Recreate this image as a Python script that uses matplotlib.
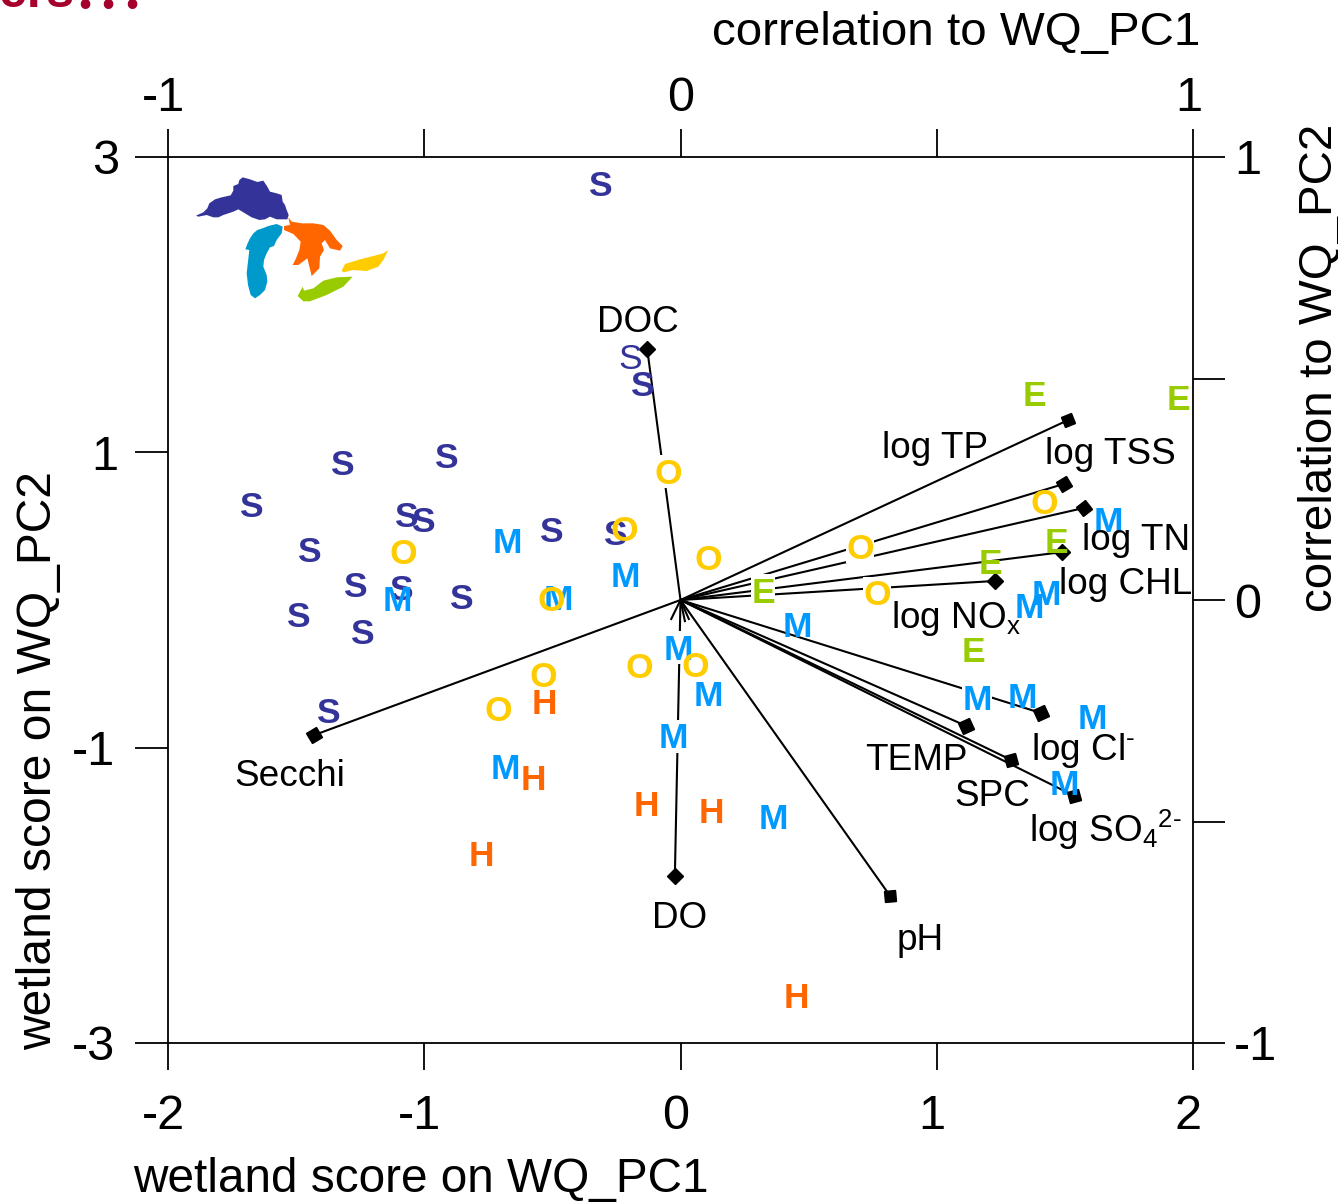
import matplotlib
matplotlib.use("Agg")
import matplotlib.pyplot as plt
from matplotlib.markers import MarkerStyle
from matplotlib.patches import Polygon
from matplotlib.transforms import Affine2D, ScaledTranslation

plt.rcParams['font.family'] = ['Liberation Sans', 'DejaVu Sans']
plt.rcParams['mathtext.fontset'] = 'custom'
plt.rcParams['mathtext.rm'] = 'Liberation Sans'
plt.rcParams['mathtext.default'] = 'regular'

W, H = 1338, 1202
# ---- data: wetland scores (lower/left axes)
s_x = [-0.314, -0.150, -1.321, -0.915, -1.676, -1.071, -1.005, -0.505, -0.256, -1.450, -1.270, -1.091, -0.857, -1.493, -1.243, -1.376]
s_y = [2.817, 1.463, 0.928, 0.975, 0.643, 0.576, 0.542, 0.474, 0.454, 0.339, 0.102, 0.081, 0.020, -0.102, -0.217, -0.752]
thin_s_x = [-0.197]
thin_s_y = [1.646]
m_x = [-0.677, -0.217, -1.106, -0.478, -0.010, 0.107, -0.029, -0.685, 0.361, 0.455, 1.668, 1.426, 1.360, 1.157, 1.333, 1.606, 1.500]
m_y = [0.400, 0.169, 0.007, 0.014, -0.325, -0.637, -0.921, -1.131, -1.470, -0.169, 0.542, 0.047, -0.041, -0.664, -0.650, -0.792, -1.239]
o_x = [-0.049, -0.220, 0.107, -1.083, -0.505, 0.700, 0.767, 1.418, -0.537, -0.712, -0.162, 0.057]
o_y = [0.867, 0.481, 0.284, 0.325, 0.007, 0.359, 0.047, 0.664, -0.508, -0.738, -0.447, -0.440]
e_x = [1.383, 1.945, 0.322, 1.208, 1.469, 1.145]
e_y = [1.395, 1.368, 0.061, 0.257, 0.400, -0.339]
h_x = [-0.533, -0.576, -0.135, 0.119, -0.779, 0.451]
h_y = [-0.691, -1.205, -1.381, -1.429, -1.720, -2.682]
# letters that sit on a white box interrupting the vectors: (letter, x, y)
masked = [('O', -0.049, 0.867), ('M', -0.010, -0.325), ('M', -0.029, -0.921), ('E', 0.322, 0.061),
          ('O', 0.700, 0.359), ('O', 0.767, 0.047), ('M', 1.157, -0.664)]
# ---- data: correlations (upper/right axes)
vec_names = ['DOC', 'log TP', 'log TSS', 'log TN', 'log CHL', 'log NOx', 'log Cl', 'TEMP', 'SPC', 'log SO4', 'pH', 'DO', 'Secchi']
vec_x = [-0.065, 0.756, 0.748, 0.788, 0.744, 0.614, 0.703, 0.557, 0.645, 0.768, 0.409, -0.011, -0.715]
vec_y = [0.567, 0.406, 0.262, 0.208, 0.108, 0.043, -0.255, -0.284, -0.361, -0.442, -0.668, -0.623, -0.305]
vec_angle = [45, 20, 30, 35, 45, 45, 25, 25, 15, 15, 5, 45, 30]
stub_x = [-0.019, 0.009, 0.017]
stub_y = [-0.045, -0.050, -0.045]
vec_text = [('DOC', 638, 323), ('log TP', 935, 448), ('log TSS', 1110, 455), ('log TN', 1136, 541),
            ('log CHL', 1126, 584), (r'log NO$_{x}$', 956, 618), (r'log Cl$^{\text{-}}$', 1083, 750), ('TEMP', 916, 760),
            ('SPC', 992, 796), (r'log SO$_{4}$$^{\text{2-}}$', 1105, 830), ('pH', 920, 941), ('DO', 680, 919), ('Secchi', 290, 776)]

S_COL, M_COL, O_COL, E_COL, H_COL = '#333399', '#0099FF', '#FFCC00', '#99CC00', '#FF6600'

fig = plt.figure(figsize=(W / 100, H / 100), dpi=100, facecolor='white')
rect = [168 / W, 1 - 1043 / H, (1193 - 168) / W, (1043 - 157) / H]
ax = fig.add_axes(rect)
ax.set_xlim(-2, 2)
ax.set_ylim(-3, 3)
ax2 = fig.add_axes(rect, frameon=False)
ax2.set_xlim(-1, 1)
ax2.set_ylim(-1, 1)
ax2.xaxis.tick_top()
ax2.yaxis.tick_right()

px = 0.72
ax.set_xticks([-2, -1, 0, 1, 2], ['-2', '-1', '0', '1', '2'])
ax.set_yticks([-3, -1, 1, 3], ['-3', '-1', '1', '3'])
ax2.set_xticks([-1, -0.5, 0, 0.5, 1], ['-1', '', '0', '', '1'])
ax2.set_yticks([-1, -0.5, 0, 0.5, 1], ['-1', '', '0', '', '1'])
ax.tick_params(axis='x', length=27 * px, width=1.3, pad=24 * px, labelsize=35)
ax.tick_params(axis='y', length=33 * px, width=1.3, pad=16 * px, labelsize=35)
ax2.tick_params(axis='x', length=28 * px, width=1.3, pad=8 * px, labelsize=35)
ax2.tick_params(axis='y', length=32 * px, width=1.3, pad=9 * px, labelsize=35)
for sp in ax.spines.values():
    sp.set_linewidth(1.3)


def shift(label, dx):
    label.set_transform(label.get_transform() + ScaledTranslation(dx * px / 72, 0, fig.dpi_scale_trans))


for lab in ax.get_xticklabels():
    shift(lab, -5)
for lab, dx in zip(ax.get_yticklabels(), [-4, -4, -1, 0]):
    shift(lab, dx)
for lab, dx in zip(ax2.get_xticklabels(), [-5, 0, 0, 0, -4]):
    shift(lab, dx)

# vectors
for x, y in zip(vec_x, vec_y):
    ax2.plot([0, x], [0, y], color='black', lw=1.5, zorder=1, solid_capstyle='butt')
for x, y in zip(stub_x, stub_y):
    ax2.plot([0, x], [0, y], color='black', lw=1.5, zorder=1, solid_capstyle='butt')
for x, y, a in zip(vec_x, vec_y, vec_angle):
    ax2.plot([x], [y], ls='none', color='black', ms=8.2, zorder=2,
             marker=MarkerStyle('s', transform=Affine2D().rotate_deg(a)))

ax.set_zorder(3)
ax.patch.set_visible(False)
ax2.set_zorder(2)
fs = 25.5
for t, x, y in masked:
    ax.text(x, y, t, fontsize=fs, fontweight='bold', color='white', ha='center', va='center', zorder=2,
            bbox=dict(facecolor='white', edgecolor='none', pad=0))
lift = ScaledTranslation(0, 1 * px / 72, fig.dpi_scale_trans)
for t, xs, ys, c in [('S', s_x, s_y, S_COL), ('M', m_x, m_y, M_COL), ('O', o_x, o_y, O_COL),
                     ('E', e_x, e_y, E_COL), ('H', h_x, h_y, H_COL)]:
    for x, y in zip(xs, ys):
        ax.text(x, y, t, fontsize=fs, fontweight='bold', color=c, ha='center', va='center_baseline', zorder=3,
                transform=ax.transData + lift)
for x, y in zip(thin_s_x, thin_s_y):
    ax.text(x, y, 'S', fontsize=fs, color=S_COL, ha='center', va='center_baseline', zorder=3,
            transform=ax.transData + lift)


def P(x, y):
    return x / W, 1 - y / H


for t, x, y in vec_text:
    fig.text(*P(x, y), t, fontsize=26.6, ha='center', va='center', color='black', zorder=5)

# axis titles
fig.text(*P(712, 45), 'correlation to WQ_PC1', fontsize=34.2, ha='left', va='baseline')
fig.text(*P(133, 1192), 'wetland score on WQ_PC1', fontsize=34.4, ha='left', va='baseline')
fig.text(*P(51, 1050), 'wetland score on WQ_PC2', fontsize=34.6, rotation=90, ha='left', va='baseline',
         rotation_mode='anchor')
fig.text(*P(1332, 612), 'correlation to WQ_PC2', fontsize=34.2, rotation=90, ha='left', va='baseline',
         rotation_mode='anchor')

# Great Lakes map (outlines in pixels of the map inset)
superior = [(78,167),(100,157),(112,145),(118,130),(135,118),(155,112),(182,106),(190,92),(190,78),(205,72),(208,60),(218,52),(240,58),(262,66),(280,62),(292,80),(300,95),(320,100),(335,105),(338,125),(345,135),(350,150),(356,165),(352,178),(320,178),(300,170),(285,178),(268,180),(245,172),(225,160),(205,148),(190,155),(160,165),(145,172),(130,172),(110,165),(85,170)]
michigan = [(226,268),(232,252),(240,235),(250,220),(262,210),(280,204),(295,198),(320,192),(338,200),(335,220),(320,240),(312,258),(300,262),(290,280),(282,300),(280,320),(290,345),(292,365),(285,390),(270,405),(255,415),(242,405),(234,375),(230,340),(234,305),(238,270)]
huron = [(355,172),(365,185),(395,190),(430,190),(460,195),(480,212),(500,240),(518,258),(510,272),(480,265),(465,240),(455,250),(462,270),(450,290),(448,325),(425,348),(412,295),(385,315),(368,315),(378,295),(388,270),(392,245),(370,222),(342,210),(342,198),(360,195)]
erie = [(383,408),(398,380),(402,392),(430,385),(460,362),(500,352),(548,350),(520,380),(470,405),(420,424),(400,424)]
ontario = [(515,332),(525,312),(570,298),(610,288),(640,280),(655,270),(640,300),(625,320),(590,333),(550,330),(520,337)]
for pts, c in [(superior, S_COL), (michigan, '#0099CC'), (huron, H_COL), (erie, E_COL), (ontario, O_COL)]:
    fig.add_artist(Polygon([P(170 + a / 3, 160 + b / 3) for a, b in pts], closed=True, facecolor=c,
                           edgecolor='none', transform=fig.transFigure))

# clipped heading remnant at the top-left edge
RED = '#A6002C'
fig.text(*P(74, 7), 'ers', fontsize=36, fontweight='bold', color=RED, ha='right', va='baseline')
for x in (85, 108, 132):
    fig.text(*P(x, 9), '.', fontsize=46, fontweight='bold', family='Lato', color=RED, ha='center', va='baseline')

fig.savefig('out.png', dpi=100, facecolor='white')
